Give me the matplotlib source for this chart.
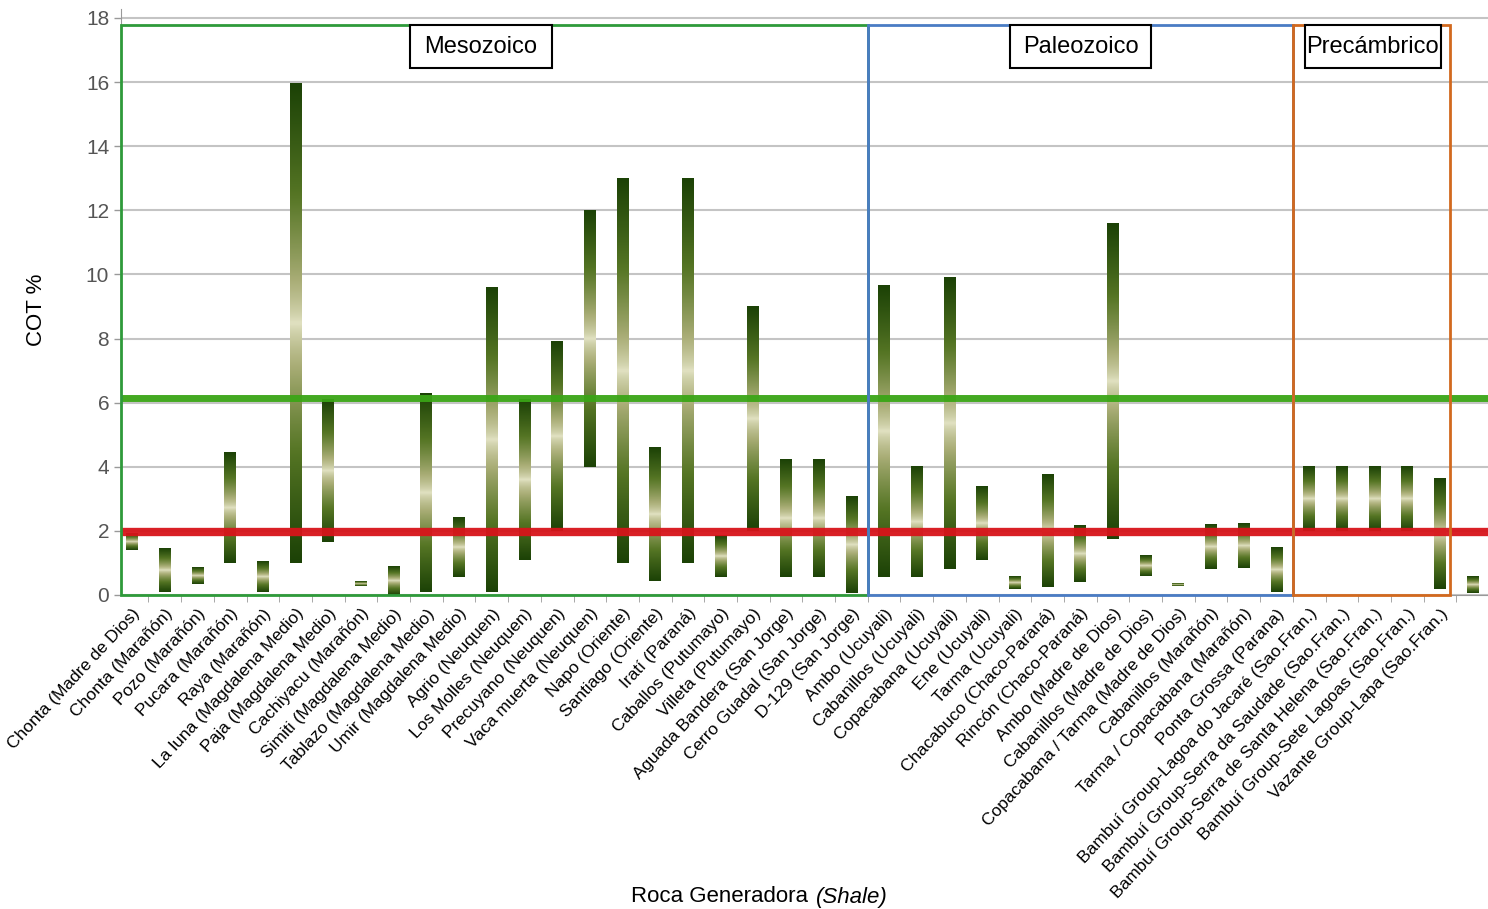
import numpy as np
import matplotlib
matplotlib.use('Agg')
from matplotlib import pyplot as plt
from matplotlib.colors import LinearSegmentedColormap
from matplotlib.patches import Rectangle

plt.rcParams['font.family'] = ['Liberation Sans', 'DejaVu Sans']

# Roca generadora (shale) y rango de COT %
rocas = ['Chonta (Madre de Dios)', 'Chonta (Marañón)', 'Pozo (Marañón)', 'Pucara (Marañón)',
         'Raya (Marañón)', 'La luna (Magdalena Medio)', 'Paja (Magdalena Medio)',
         'Cachiyacu (Marañón)', 'Simiti (Magdalena Medio)', 'Tablazo (Magdalena Medio)',
         'Umir (Magdalena Medio)', 'Agrio (Neuquen)', 'Los Molles (Neuquen)',
         'Precuyano (Neuquen)', 'Vaca muerta (Neuquen)', 'Napo (Oriente)',
         'Santiago (Oriente)', 'Iratí (Paraná)', 'Caballos (Putumayo)', 'Villeta (Putumayo)',
         'Aguada Bandera (San Jorge)', 'Cerro Guadal (San Jorge)', 'D-129 (San Jorge)',
         'Ambo (Ucuyali)', 'Cabanillos (Ucuyali)', 'Copacabana (Ucuyali)', 'Ene (Ucuyali)',
         'Tarma (Ucuyali)', 'Chacabuco (Chaco-Paraná)', 'Rincón (Chaco-Paraná)',
         'Ambo (Madre de Dios)', 'Cabanillos (Madre de Dios)',
         'Copacabana / Tarma (Madre de Dios)', 'Cabanillos (Marañón)',
         'Tarma / Copacabana (Marañón)', 'Ponta Grossa (Parana)',
         'Bambuí Group-Lagoa do Jacaré (Sao.Fran.)', 'Bambuí Group-Serra da Saudade (Sao.Fran.)',
         'Bambuí Group-Serra de Santa Helena (Sao.Fran.)', 'Bambuí Group-Sete Lagoas (Sao.Fran.)',
         'Vazante Group-Lapa (Sao.Fran.)', '']
cot_min = [1.4, 0.1, 0.35, 1.0, 0.1, 1.0, 1.65, 0.28, 0.0, 0.1,
           0.55, 0.1, 1.1, 2.0, 4.0, 1.0, 0.45, 1.0, 0.55, 2.0,
           0.55, 0.55, 0.05, 0.55, 0.55, 0.8, 1.1, 0.2, 0.25, 0.4,
           1.75, 0.6, 0.27, 0.8, 0.85, 0.1, 2.0, 2.0, 2.0, 2.0,
           0.2, 0.05]
cot_max = [1.9, 1.45, 0.85, 4.45, 1.05, 15.95, 6.1, 0.42, 0.9, 6.3,
           2.4, 9.6, 6.1, 7.9, 12.0, 13.0, 4.6, 13.0, 1.85, 9.0,
           4.2, 4.2, 3.05, 9.65, 4.0, 9.9, 3.4, 0.6, 3.75, 2.15,
           11.6, 1.25, 0.35, 2.2, 2.25, 1.5, 4.0, 4.0, 4.0, 4.0,
           3.65, 0.55]

# eras
eras = ['Mesozoico', 'Paleozoico', 'Precámbrico']
era_inicio = [-0.34, 22.5, 35.5]
era_fin = [22.5, 35.5, 40.3]
era_color = ['#2e9a3a', '#4a7cc4', '#d2691e']
etiqueta_x0 = [8.5, 26.85, 35.87]
etiqueta_x1 = [12.84, 31.16, 40.03]

limite_alto = 6.15
limite_bajo = 1.98

fig = plt.figure(figsize=(14.88, 9.09), dpi=100)
ax = fig.add_axes([121 / 1488, 1 - 595 / 909, (1488 - 121) / 1488, (595 - 9) / 909])

cmap = LinearSegmentedColormap.from_list('barra', [(0, '#e4e4c6'), (0.3, '#a9ad76'),
                                                   (0.65, '#557524'), (1, '#1c4206')])
t = np.linspace(0, 1, 200)
grad = (np.abs(2 * t - 1) ** 0.7).reshape(-1, 1)
w = 0.36
for i in range(len(rocas)):
    ax.imshow(grad, cmap=cmap, vmin=0, vmax=1, aspect='auto', origin='lower',
              extent=(i - w / 2, i + w / 2, cot_min[i], cot_max[i]), zorder=3,
              interpolation='bilinear')

ax.axhline(limite_alto, color='#3aa516', lw=5, zorder=4, alpha=0.95)
ax.axhline(limite_bajo, color='#d7141a', lw=6, zorder=4, alpha=0.95)

for k in range(len(eras)):
    ax.add_patch(Rectangle((era_inicio[k], 0), era_fin[k] - era_inicio[k], 17.78,
                           fill=False, ec=era_color[k], lw=2, zorder=5, clip_on=False))
    ax.add_patch(Rectangle((etiqueta_x0[k], 16.44), etiqueta_x1[k] - etiqueta_x0[k], 17.78 - 16.44,
                           fc='white', ec='black', lw=1.5, zorder=6))
    ax.text((etiqueta_x0[k] + etiqueta_x1[k]) / 2, (16.44 + 17.78) / 2, eras[k],
            ha='center', va='center', fontsize=17, zorder=7)

ax.set_xlim(-0.34, 41.47)
ax.set_ylim(0, 18.28)
ax.set_yticks(range(0, 19, 2))
ax.yaxis.grid(True, color='#c4c4c4', lw=1.5)
ax.set_axisbelow(True)
ax.tick_params(axis='y', colors='#999999', labelcolor='#555555', labelsize=15, length=5, width=1)

ax.set_xticks(range(len(rocas)))
ax.set_xticklabels(rocas, rotation=47, ha='right', rotation_mode='anchor', fontsize=12.5)
ax.set_xticks(np.arange(0.5, len(rocas) - 0.5, 1), minor=True)
ax.tick_params(axis='x', which='major', length=0, pad=8)
ax.tick_params(axis='x', which='minor', length=5, color='#999999')

for s in ['top', 'right']:
    ax.spines[s].set_visible(False)
ax.spines['left'].set_color('#999999')
ax.spines['bottom'].set_color('#999999')

fig.text(37 / 1488, 1 - 310 / 909, 'COT %', rotation=90, ha='center', va='center', fontsize=16)
fig.text(814 / 1488, 1 - 897 / 909, 'Roca Generadora ', ha='right', va='center', fontsize=16)
fig.text(816 / 1488, 1 - 897 / 909, '(Shale)', ha='left', va='center', fontsize=16, style='italic')

fig.savefig('out.png', dpi=100)
